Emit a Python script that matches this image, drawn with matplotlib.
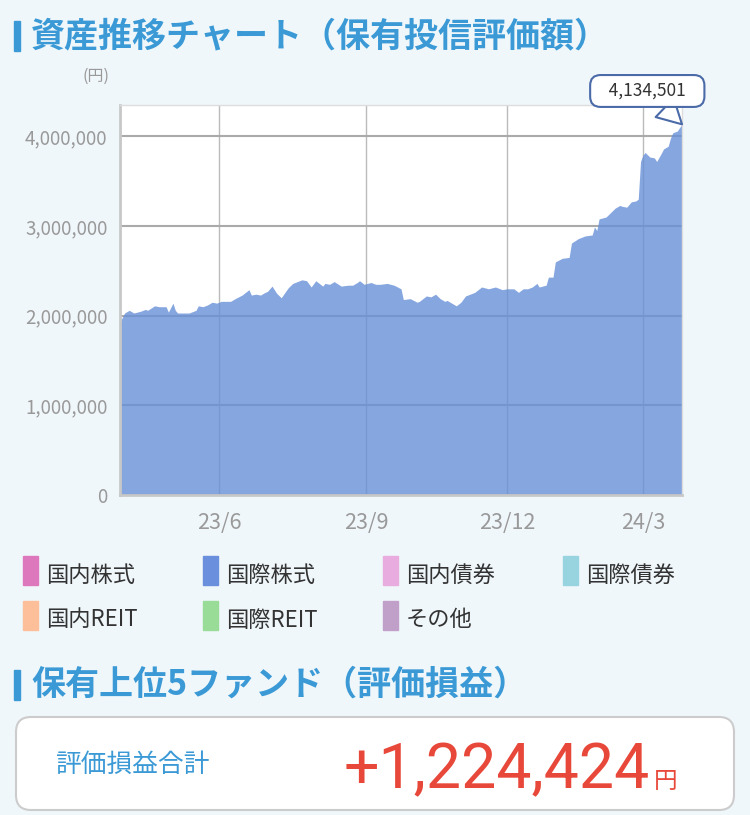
import matplotlib
matplotlib.use("Agg")
import matplotlib.pyplot as plt
from matplotlib.patches import Rectangle, FancyBboxPatch
from matplotlib.ticker import FuncFormatter

plt.rcParams['font.family'] = ['Noto Sans CJK JP', 'DejaVu Sans']

W, H = 750, 815
BG = "#f0f7fb"
BLUE_TXT = "#3b9ad6"

# trading-day index vs. valuation (yen)
days = [0, 2, 4, 6, 9, 11, 12, 15, 17, 20, 21, 23, 24, 25, 27, 30, 33, 34, 36, 38,
        40, 42, 44, 48, 50, 53, 56, 57, 59, 61, 63, 64, 66, 68, 70, 73, 75, 79, 81, 83,
        85, 88, 89, 91, 93, 96, 99, 101, 103, 104, 106, 109, 111, 113, 116, 119, 122, 123, 126, 129,
        130, 133, 135, 137, 139, 141, 142, 144, 146, 148, 150, 152, 154, 157, 160, 163, 166, 168, 171, 173,
        175, 177, 179, 181, 182, 185, 186, 188, 189, 192, 195, 196, 199, 202, 205, 206, 207, 208, 211, 213,
        215, 217, 218, 220, 222, 224, 225, 226, 227, 228, 230, 232, 233, 235, 236, 238, 239, 240, 242, 243,
        244]
values = [1930000, 2030000, 2060000, 2030000, 2050000, 2070000, 2060000, 2110000, 2100000, 2100000,
          2040000, 2140000, 2060000, 2030000, 2030000, 2030000, 2060000, 2110000, 2100000, 2120000,
          2150000, 2140000, 2160000, 2160000, 2190000, 2230000, 2290000, 2230000, 2240000, 2230000,
          2260000, 2270000, 2330000, 2250000, 2200000, 2310000, 2360000, 2400000, 2390000, 2320000,
          2390000, 2330000, 2360000, 2350000, 2380000, 2330000, 2340000, 2340000, 2370000, 2390000,
          2350000, 2370000, 2350000, 2350000, 2360000, 2340000, 2300000, 2180000, 2190000, 2150000,
          2160000, 2220000, 2210000, 2240000, 2190000, 2160000, 2170000, 2140000, 2110000, 2150000,
          2220000, 2240000, 2260000, 2320000, 2300000, 2320000, 2290000, 2300000, 2300000, 2260000,
          2300000, 2300000, 2320000, 2360000, 2320000, 2340000, 2430000, 2430000, 2600000, 2640000,
          2650000, 2810000, 2860000, 2890000, 2900000, 2990000, 2950000, 3080000, 3100000, 3150000,
          3200000, 3230000, 3220000, 3210000, 3270000, 3280000, 3300000, 3720000, 3790000, 3820000,
          3770000, 3760000, 3720000, 3810000, 3860000, 3890000, 3980000, 4040000, 4060000, 4100000,
          4134501]

month_pos = [43, 107, 168, 227]
month_labels = ["23/6", "23/9", "23/12", "24/3"]
y_ticks = [0, 1000000, 2000000, 3000000, 4000000]

legend_labels = ["国内株式", "国際株式", "国内債券", "国際債券", "国内REIT", "国際REIT", "その他"]
legend_colors = ["#de78bc", "#6a8fdc", "#e8acdf", "#98d3e0", "#fdbf99", "#98dc98", "#c0a0c8"]

latest = values[-1]
profit = 1224424


def fx(x):
    return x / W


def fy(y):
    return 1 - y / H


fig = plt.figure(figsize=(W / 100, H / 100), dpi=100, facecolor=BG)

# headers
fig.patches.append(Rectangle((fx(14), fy(51)), fx(6), 30 / H, transform=fig.transFigure,
                             color=BLUE_TXT, zorder=2))
fig.text(fx(31), fy(36), "資産推移チャート（保有投信評価額）", fontsize=24.5, fontweight="bold",
         color=BLUE_TXT, va="center", ha="left")
fig.text(fx(109), fy(76), "(円)", fontsize=11.5, color="#999999", ha="right", va="center")

# chart
ax = fig.add_axes([fx(120), fy(495), 562 / W, 390 / H])
ax.set_facecolor("white")
ax.fill_between(days, values, 0, color="#6890d8", alpha=0.8, lw=0, zorder=2)
ax.set_xlim(0, 244)
ax.set_ylim(0, 4350000)
ax.set_xticks(month_pos)
ax.set_xticklabels(month_labels)
ax.set_yticks(y_ticks)
ax.yaxis.set_major_formatter(FuncFormatter(lambda v, _: f"{int(v):,}"))
ax.tick_params(length=0, labelcolor="#999999")
ax.tick_params(axis="y", pad=9, labelsize=13.5)
ax.tick_params(axis="x", pad=12, labelsize=15.5)
ax.set_axisbelow(True)
ax.grid(axis="y", color="#aaaaaa", lw=1.5)
ax.grid(axis="x", color="#bbbbbb", lw=1.0)
for side in ["left", "bottom"]:
    ax.spines[side].set_color("#c8c8c8")
    ax.spines[side].set_linewidth(2)
for side in ["top", "right"]:
    ax.spines[side].set_color("#dddddd")
    ax.spines[side].set_linewidth(1)

ax.annotate(f"   {latest:,}   ", xy=(days[-1], latest), xytext=(-25, 24), textcoords="offset points",
            ha="center", va="center", fontsize=12.5, color="#333333", annotation_clip=False,
            bbox=dict(boxstyle="round,pad=0.4,rounding_size=0.6", fc="white", ec="#4a6aa8", lw=1.5),
            arrowprops=dict(arrowstyle="wedge,tail_width=1.5,shrink_factor=0.5", fc="white",
                            ec="#4a6aa8", lw=1.5, shrinkA=0, shrinkB=0),
            zorder=10)

# legend
col_x = [23, 203, 383, 563]
row_y = [556, 601]
for i, (lab, col) in enumerate(zip(legend_labels, legend_colors)):
    x0 = col_x[i % 4]
    y0 = row_y[i // 4]
    fig.patches.append(Rectangle((fx(x0), fy(y0 + 29)), fx(15), 29 / H,
                                 transform=fig.transFigure, color=col))
    fig.text(fx(x0 + 23), fy(y0 + 19), lab, fontsize=16, color="#333333",
             ha="left", va="center")

# second header
fig.patches.append(Rectangle((fx(14), fy(700)), fx(6), 30 / H, transform=fig.transFigure,
                             color=BLUE_TXT, zorder=2))
fig.text(fx(31), fy(684), "保有上位5ファンド（評価損益）", fontsize=24.5, fontweight="bold",
         color=BLUE_TXT, va="center", ha="left")

fig.patches.append(FancyBboxPatch((fx(16), fy(810)), fx(718), 93 / H,
                                  boxstyle="round,pad=0,rounding_size=0.02",
                                  transform=fig.transFigure, fc="white", ec="#cccccc", lw=1.5,
                                  mutation_aspect=W / H))
fig.text(fx(55), fy(765), "評価損益合計", fontsize=18.5, color=BLUE_TXT, ha="left", va="center")
fig.text(fx(650), fy(788), f"+{profit:,}", fontsize=45, color="#e8483a", ha="right",
         va="baseline", family=["Roboto", "DejaVu Sans"])
fig.text(fx(654), fy(788), "円", fontsize=17, color="#e8483a", ha="left", va="baseline")

fig.savefig("out.png", dpi=100, facecolor=BG)
